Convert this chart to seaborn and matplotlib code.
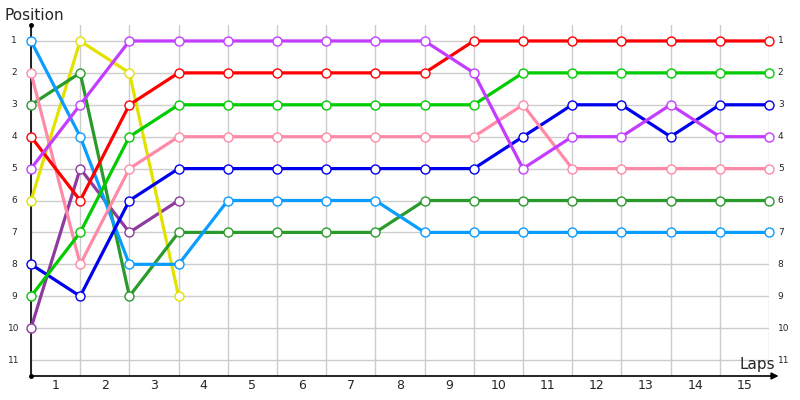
import matplotlib
matplotlib.use('Agg')
import pandas as pd
import seaborn as sns
import matplotlib.pyplot as plt

# =========================================
# DATA
# =========================================

laps = list(range(16))
lap_labels = [str(i) for i in range(1, 16)]
positions = list(range(1, 12))

pos_red = [4, 6, 3, 2, 2, 2, 2, 2, 2, 1, 1, 1, 1, 1, 1, 1]
pos_purple = [5, 3, 1, 1, 1, 1, 1, 1, 1, 2, 5, 4, 4, 3, 4, 4]
pos_green = [9, 7, 4, 3, 3, 3, 3, 3, 3, 3, 2, 2, 2, 2, 2, 2]
pos_pink = [2, 8, 5, 4, 4, 4, 4, 4, 4, 4, 3, 5, 5, 5, 5, 5]
pos_blue = [8, 9, 6, 5, 5, 5, 5, 5, 5, 5, 4, 3, 3, 4, 3, 3]
pos_lightblue = [1, 4, 8, 8, 6, 6, 6, 6, 7, 7, 7, 7, 7, 7, 7, 7]
pos_darkgreen = [3, 2, 9, 7, 7, 7, 7, 7, 6, 6, 6, 6, 6, 6, 6, 6]
pos_yellow = [6, 1, 2, 9]
pos_plum = [10, 5, 7, 6]

series = [
    ("plum", pos_plum, "#8e3a9e"),
    ("yellow", pos_yellow, "#e2e200"),
    ("darkgreen", pos_darkgreen, "#2a9a2a"),
    ("lightblue", pos_lightblue, "#0a9cff"),
    ("blue", pos_blue, "#0000ee"),
    ("pink", pos_pink, "#ff8aa8"),
    ("green", pos_green, "#00cc00"),
    ("red", pos_red, "#ff0000"),
    ("purple", pos_purple, "#c43cff"),
]

# =========================================
# PLOT
# =========================================

sns.set_style("white")
plt.rcParams['font.family'] = ['DejaVu Sans']

fig = plt.figure(figsize=(8, 4), dpi=100)
ax = fig.add_axes([31 / 800, 1 - 376 / 400, 738 / 800, 351 / 400])

z = 3
for name, vals, col in series:
    df = pd.DataFrame({"Lap": laps[:len(vals)], "Position": vals})
    sns.lineplot(data=df, x="Lap", y="Position", ax=ax,
                 color=col, lw=2.3, clip_on=False, zorder=z)
    sns.scatterplot(data=df, x="Lap", y="Position", ax=ax,
                    s=42, color="white", edgecolor=col, linewidth=1.0,
                    clip_on=False, zorder=z + 0.5)
    z += 1

ax.set_xlim(0, 15)
ax.set_ylim(11.5, 0.5)
ax.set_xticks(laps)
ax.set_yticks(positions)
ax.set_xticklabels([])
ax.set_yticklabels([])
ax.tick_params(length=0)
ax.grid(True, color="#cccccc", lw=1)
ax.set_xlabel("")
ax.set_ylabel("")
for s in ax.spines.values():
    s.set_visible(False)

# axes lines
ax.plot([0, 0], [0, 1], transform=ax.transAxes, color="black", lw=1.2, clip_on=False)
ax.plot([0, 0], [0, 1], "o", transform=ax.transAxes, color="black", ms=2.5, clip_on=False)
ax.annotate("", xy=(1.013, 0), xytext=(0, 0), xycoords="axes fraction",
            arrowprops=dict(arrowstyle="-|>", color="black", lw=1.2,
                            mutation_scale=10, shrinkA=0, shrinkB=0))

# tick labels
ytr = ax.get_yaxis_transform()
for p in positions:
    ax.text(-0.023, p, str(p), transform=ytr, ha="center", va="center", fontsize=6.5)
    ax.text(1.012, p, str(p), transform=ytr, ha="left", va="center", fontsize=6.5)

xtr = ax.get_xaxis_transform()
for i, lab in enumerate(lap_labels):
    ax.text(i + 0.5, -0.027, lab, transform=xtr, ha="center", va="center", fontsize=9)

fig.text(4 / 800, 1 - 15 / 400, "Position", ha="left", va="center", fontsize=11)
fig.text(775 / 800, 1 - 369 / 400, "Laps", ha="right", va="baseline", fontsize=11)

fig.savefig("out.png", dpi=100)
plt.close(fig)
